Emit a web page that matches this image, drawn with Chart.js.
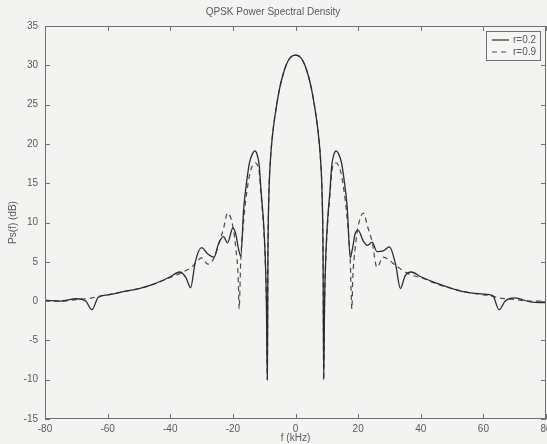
<!DOCTYPE html>
<html lang="en">
<head>
<meta charset="UTF-8">
<title>QPSK Power Spectral Density</title>
<script src="https://cdn.jsdelivr.net/npm/chart.js"></script>
<style>
  html, body { margin: 0; padding: 0; background: #f3f3f1; }
  #wrap { width: 547px; height: 444px; }
</style>
</head>
<body>
<div id="wrap"><canvas id="psdChart" width="547" height="444"></canvas></div>
<script>
// frequency grid in kHz (denser around the lobes and nulls)
const freqs = [
  -80, -75, -70, -67, -65, -63, -60, -55, -50, -45,
  -40, -37, -35, -33.5, -32, -30, -28, -26, -24.5, -23,
  -21.7, -20, -19, -18.3, -18, -17.5, -16.5, -15.5, -14.7, -13.8,
  -13, -12.3, -11.6, -11, -10.2, -9.7, -9.3, -9, -8.8, -8.5,
  -8, -7.5, -7, -6, -5, -4, -3, -2, -1, 0,
  1, 2, 3, 4, 5, 6, 7, 7.5, 8, 8.5,
  8.8, 9, 9.3, 9.7, 10.2, 11, 11.6, 12.3, 13, 13.8,
  14.7, 15.5, 16.5, 17.5, 18, 18.3, 19, 20, 21.7, 23,
  24.5, 26, 28, 30, 32, 33.5, 35, 37, 40, 45,
  50, 55, 60, 63, 65, 67, 70, 75, 80
];

// Ps(f) in dB, roll-off r = 0.2
const psdR02 = [
  0.1, 0.0, 0.3, 0.0, -1.1, 0.5, 0.8, 1.2, 1.6, 2.2,
  3.1, 3.7, 3.0, 1.7, 5.0, 6.8, 6.0, 5.6, 7.4, 8.2,
  7.4, 9.3, 8.4, 6.8, 6.3, 5.7, 12.0, 15.5, 17.6, 18.7,
  19.1, 18.7, 17.3, 14.0, 10.0, 6.0, 0.0, -10.0, 6.0, 13.5,
  18.0, 20.5, 22.3, 25.0, 27.2, 28.8, 30.0, 30.8, 31.2, 31.3,
  31.2, 30.8, 30.0, 28.8, 27.2, 25.0, 22.3, 20.5, 18.0, 13.5,
  6.0, -10.0, 0.0, 6.0, 10.0, 14.0, 17.3, 18.7, 19.1, 18.7,
  17.6, 15.5, 12.0, 5.5, 6.3, 6.9, 8.5, 9.0, 7.6, 7.1,
  7.5, 6.3, 6.4, 6.9, 4.6, 1.6, 3.2, 3.7, 3.1, 2.3,
  1.6, 1.1, 0.9, 0.7, -1.1, 0.0, 0.4, -0.1, -0.2
];

// Ps(f) in dB, roll-off r = 0.9
const psdR09 = [
  0.0, 0.0, 0.2, 0.3, 0.4, 0.6, 0.8, 1.2, 1.6, 2.2,
  3.0, 3.5, 3.9, 4.2, 4.8, 5.5, 4.7, 5.5, 7.3, 9.2,
  11.2, 9.5, 6.5, 3.0, -1.0, 5.0, 10.5, 14.0, 16.0, 17.2,
  17.6, 17.4, 16.5, 13.5, 9.5, 5.5, 0.0, -10.0, 6.0, 13.5,
  18.0, 20.5, 22.3, 25.0, 27.2, 28.8, 30.0, 30.8, 31.2, 31.3,
  31.2, 30.8, 30.0, 28.8, 27.2, 25.0, 22.3, 20.5, 18.0, 13.5,
  6.0, -10.0, 0.0, 5.5, 9.5, 13.5, 16.5, 17.4, 17.6, 17.2,
  16.0, 14.0, 10.5, 5.0, -1.0, 3.0, 6.5, 9.5, 11.2, 9.5,
  7.5, 4.3, 5.6, 5.2, 4.5, 4.1, 3.7, 3.3, 3.0, 2.2,
  1.6, 1.1, 0.8, 0.6, 0.4, 0.3, 0.2, 0.0, 0.0
];

const seriesNames = ['r=0.2', 'r=0.9'];
const xTicks = [-80, -60, -40, -20, 0, 20, 40, 60, 80];
const yTicks = [-15, -10, -5, 0, 5, 10, 15, 20, 25, 30, 35];

const ink = '#5a5a5a';
const frameColor = '#707070';

Chart.defaults.font.family = '"Liberation Sans", Arial, sans-serif';
Chart.defaults.font.size = 10;
Chart.defaults.color = ink;

// matlab style box with inward ticks on all four sides, plus the legend
const framePlugin = {
  id: 'frame',
  beforeDraw(chart) {
    const ctx = chart.ctx;
    ctx.save();
    ctx.fillStyle = '#f3f3f1';
    ctx.fillRect(0, 0, chart.width, chart.height);
    ctx.restore();
  },
  afterDraw(chart) {
    const { ctx, chartArea: a, scales } = chart;
    const x = scales.x, y = scales.y;
    ctx.save();
    ctx.strokeStyle = frameColor;
    ctx.lineWidth = 1;
    ctx.strokeRect(a.left + 0.5, a.top + 0.5, a.right - a.left - 1, a.bottom - a.top - 1);

    ctx.beginPath();
    xTicks.forEach(v => {
      const px = Math.round(x.getPixelForValue(v)) + 0.5;
      ctx.moveTo(px, a.bottom); ctx.lineTo(px, a.bottom - 5);
      ctx.moveTo(px, a.top); ctx.lineTo(px, a.top + 5);
    });
    yTicks.forEach(v => {
      const py = Math.round(y.getPixelForValue(v)) + 0.5;
      ctx.moveTo(a.left, py); ctx.lineTo(a.left + 5, py);
      ctx.moveTo(a.right, py); ctx.lineTo(a.right - 5, py);
    });
    ctx.stroke();

    // legend box in the top right corner
    const bx = a.right - 60, by = a.top + 5, bw = 54, bh = 29;
    ctx.fillStyle = '#f5f5f3';
    ctx.fillRect(bx, by, bw, bh);
    ctx.strokeRect(bx + 0.5, by + 0.5, bw, bh);
    ctx.font = '10px "Liberation Sans", Arial, sans-serif';
    ctx.textBaseline = 'middle';
    chart.data.datasets.forEach((ds, i) => {
      const ry = by + 9 + i * 12;
      ctx.strokeStyle = ds.borderColor;
      ctx.lineWidth = 1.2;
      ctx.setLineDash(ds.borderDash || []);
      ctx.beginPath();
      ctx.moveTo(bx + 6, ry); ctx.lineTo(bx + 23, ry);
      ctx.stroke();
      ctx.setLineDash([]);
      ctx.fillStyle = ink;
      ctx.fillText(ds.label, bx + 27, ry);
    });
    ctx.restore();
  }
};

const toPoints = vals => freqs.map((f, i) => ({ x: f, y: vals[i] }));

new Chart(document.getElementById('psdChart'), {
  type: 'line',
  data: {
    datasets: [
      {
        label: seriesNames[0],
        data: toPoints(psdR02),
        borderColor: '#2c2c2c',
        borderWidth: 1.3,
        pointRadius: 0,
        cubicInterpolationMode: 'monotone'
      },
      {
        label: seriesNames[1],
        data: toPoints(psdR09),
        borderColor: '#4a4a4a',
        borderWidth: 1.2,
        borderDash: [5, 4],
        pointRadius: 0,
        cubicInterpolationMode: 'monotone'
      }
    ]
  },
  options: {
    responsive: false,
    animation: false,
    devicePixelRatio: 1,
    layout: { padding: { left: 0, right: 1, top: 0, bottom: 0 } },
    plugins: {
      legend: { display: false },
      tooltip: { enabled: false },
      title: {
        display: true,
        text: 'QPSK Power Spectral Density',
        color: ink,
        font: { size: 10, weight: 'normal' },
        padding: { top: 6, bottom: 8 }
      }
    },
    scales: {
      x: {
        type: 'linear',
        min: -80,
        max: 80,
        afterBuildTicks: s => { s.ticks = xTicks.map(v => ({ value: v })); },
        afterFit: s => { s.height = 25; s.paddingLeft = 0; s.paddingRight = 0; },
        grid: { display: false, drawTicks: false },
        border: { display: false },
        ticks: { padding: 4, maxRotation: 0, autoSkip: false, color: ink },
        title: { display: true, text: 'f (kHz)', color: ink, font: { size: 10 }, padding: 0 }
      },
      y: {
        type: 'linear',
        min: -15,
        max: 35,
        afterBuildTicks: s => { s.ticks = yTicks.map(v => ({ value: v })); },
        afterFit: s => { s.width = 45; s.paddingTop = 0; s.paddingBottom = 0; },
        grid: { display: false, drawTicks: false },
        border: { display: false },
        ticks: { padding: 7, autoSkip: false, color: ink },
        title: { display: true, text: 'Ps(f) (dB)', color: ink, font: { size: 10 }, padding: { top: 7, bottom: 0 } }
      }
    }
  },
  plugins: [framePlugin]
});
</script>
</body>
</html>
